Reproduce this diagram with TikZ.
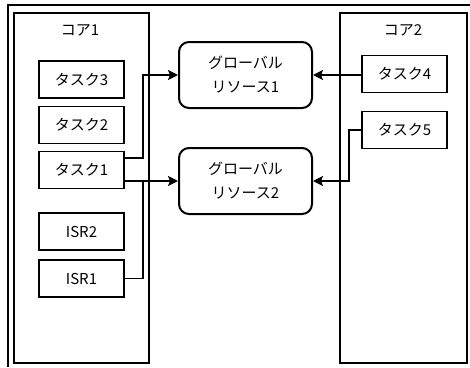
\documentclass[tikz,border=0pt]{standalone}
\usepackage{fontspec}
\newfontfamily\jpfont{Noto Sans CJK JP}
\usetikzlibrary{arrows.meta,positioning}

\begin{document}
\begin{tikzpicture}[x=1pt, y=-1pt,
  core/.style={draw, line width=2pt, minimum height=350pt, inner sep=0pt},
  task/.style={draw, line width=1.9pt, minimum width=85pt, minimum height=37pt,
               inner sep=0pt, font=\jpfont\fontsize{15}{18}\selectfont},
  res/.style={draw, line width=2pt, rounded corners=10pt, minimum width=133pt,
              minimum height=66pt, align=center, inner sep=0pt,
              font=\jpfont\fontsize{15}{24}\selectfont},
  lbl/.style={font=\jpfont\fontsize{15}{18}\selectfont},
  arr/.style={-{Stealth[length=10pt,width=10pt,inset=2pt]}, line width=2.4pt},
  wire/.style={line width=1.9pt},
]
\useasboundingbox (0,0) rectangle (470,367);
% 外枠
\draw[line width=2.5pt] (8,367) |- (470,5);
% コア
\node[core, minimum width=135pt] (core1) at (81.5,188)  {};
\node[core, minimum width=127pt] (core2) at (403.5,188) {};
\node[lbl] (core1lbl) at (80,30)  {コア1};
\node[lbl] (core2lbl) at (403,30) {コア2};
% タスク
\node[task] (t3)   at (81.5,79.5)  {タスク3};
\node[task] (t2)   at (81.5,125)   {タスク2};
\node[task] (t1)   at (81.5,170)   {タスク1};
\node[task] (isr2) at (81.5,231.5) {ISR2};
\node[task] (isr1) at (81.5,278.5) {ISR1};
\node[task] (t4)   at (404.5,74)   {タスク4};
\node[task] (t5)   at (404.5,130)  {タスク5};
% グローバルリソース
\node[res] (gr1) at (245.5,75)  {グローバル\\リソース1};
\node[res] (gr2) at (245.5,181) {グローバル\\リソース2};
% 矢印
\coordinate (bus1) at (143,0);
\coordinate (bus2) at (349,0);
\draw[arr]  ([yshift=12pt]t1.east) -| (bus1 |- gr1.west) -- (gr1.west);
\draw[arr]  (t1.east |- gr2.west) -- (gr2.west);
\draw[wire] (isr1.east) -| (bus1 |- gr2.west);
\draw[arr]  (t4.west |- gr1.east) -- (gr1.east);
\draw[arr]  (t5.west) -| (bus2 |- gr2.east) -- (gr2.east);
\end{tikzpicture}
\end{document}
